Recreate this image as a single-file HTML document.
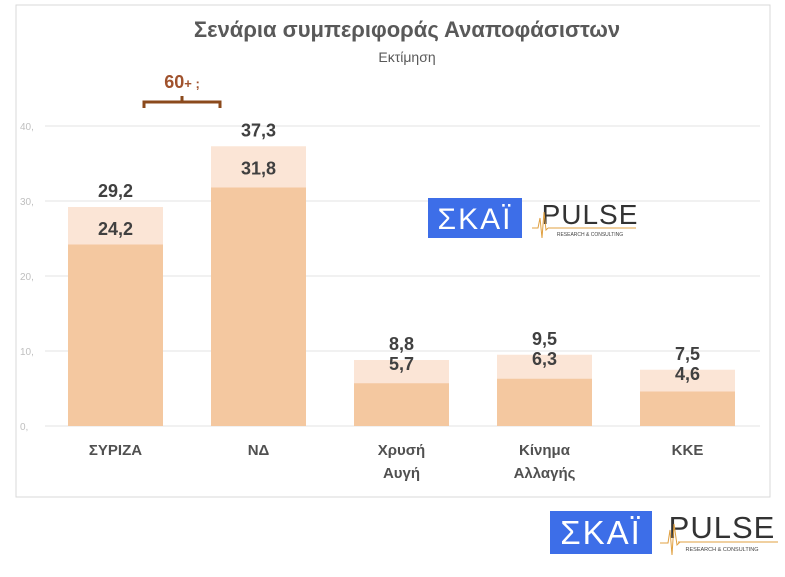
<!DOCTYPE html>
<html><head><meta charset="utf-8"><style>
body{margin:0;background:#fff;width:785px;height:572px;overflow:hidden;font-family:"Liberation Sans","DejaVu Sans",sans-serif}
</style></head><body>
<svg width="785" height="572" xmlns="http://www.w3.org/2000/svg">
<rect x="16" y="5" width="754" height="492" fill="#fff" stroke="#d9d9d9"/>
<text x="407" y="37" text-anchor="middle" font-size="22" font-weight="bold" fill="#595959">Σενάρια συμπεριφοράς Αναποφάσιστων</text>
<text x="407" y="62" text-anchor="middle" font-size="14" fill="#595959">Εκτίμηση</text>
<g id="grid"></g>
<g id="bars"></g>
<g>
<path d="M144,108 V102 H220 V108 M182,102 V96" fill="none" stroke="#8b4a1c" stroke-width="3"/>
<text x="182" y="88" text-anchor="middle" font-size="18" font-weight="bold" fill="#a0522d">60<tspan font-size="13">+ ;</tspan></text>
</g>
<g>
<rect x="428" y="198" width="94" height="40" fill="#3d6ee8"/>
<text x="475" y="229" text-anchor="middle" font-size="30" fill="#fff" letter-spacing="2">ΣΚΑΪ</text>
<text x="590" y="224" text-anchor="middle" font-size="28" fill="#333" letter-spacing="1">PULSE</text>
<line x1="548" y1="228" x2="636" y2="228" stroke="#e0a040"/>
<text x="590" y="236" text-anchor="middle" font-size="5" fill="#444">RESEARCH &amp; CONSULTING</text>
<path d="M532,228 L538,228 L540,218 L542,238 L544,212 L546,230 L548,228" fill="none" stroke="#e0a040"/>
</g>
<g>
<rect x="550" y="511" width="102" height="43" fill="#3d6ee8"/>
<text x="601" y="544" text-anchor="middle" font-size="33" fill="#fff" letter-spacing="2">ΣΚΑΪ</text>
<text x="722" y="538" text-anchor="middle" font-size="31" fill="#333" letter-spacing="1">PULSE</text>
<line x1="678" y1="542" x2="778" y2="542" stroke="#e0a040"/>
<text x="722" y="551" text-anchor="middle" font-size="5.5" fill="#444">RESEARCH &amp; CONSULTING</text>
<path d="M660,543 L668,543 L670,530 L672,555 L674,524 L677,545 L680,542" fill="none" stroke="#e0a040"/>
</g>
</svg>
<script>
const categories=[["ΣΥΡΙΖΑ"],["ΝΔ"],["Χρυσή","Αυγή"],["Κίνημα","Αλλαγής"],["ΚΚΕ"]];
const baseValues=[24.2,31.8,5.7,6.3,4.6];
const totalValues=[29.2,37.3,8.8,9.5,7.5];
const baseLabels=["24,2","31,8","5,7","6,3","4,6"];
const totalLabels=["29,2","37,3","8,8","9,5","7,5"];
const ticks=[0,10,20,30,40];
const tickLabels=["0,","10,","20,","30,","40,"];
const NS="http://www.w3.org/2000/svg";
const x0=44,bandW=143,yBase=426,pxPer=7.5,barW=95;
const y=v=>yBase-v*pxPer;
const xc=i=>x0+bandW*(i+0.5);
function mk(t,a,p){const e=document.createElementNS(NS,t);for(const k in a)e.setAttribute(k,a[k]);p.appendChild(e);return e;}
const g=document.getElementById('grid'),b=document.getElementById('bars');
ticks.forEach((t,i)=>{
 const l=mk('line',{x1:45,x2:760,y1:y(t),y2:y(t),stroke:'#e3e3e3'},g);
 
 
 const tx=mk('text',{x:20,y:y(t)+4,'font-size':10,fill:'#bfbfbf'},g);tx.textContent=tickLabels[i];
 
 
});
categories.forEach((c,i)=>{
 const cx=xc(i);
 const r1=mk('rect',{x:cx-barW/2,y:y(totalValues[i]),width:barW,height:totalValues[i]*pxPer,fill:'#fbe5d6'},b);
 
 
 const r2=mk('rect',{x:cx-barW/2,y:y(baseValues[i]),width:barW,height:baseValues[i]*pxPer,fill:'#f4c8a0'},b);
 
 
 const top=y(totalValues[i]);
 const big=totalValues[i]>20;
 const t1=mk('text',{x:cx,y:top-(big?10:10),'text-anchor':'middle','font-size':18,'font-weight':'bold',fill:'#404040'},b);t1.textContent=totalLabels[i];
 
 
 const t2=mk('text',{x:cx,y:top+(big?28:10),'text-anchor':'middle','font-size':18,'font-weight':'bold',fill:'#404040'},b);t2.textContent=baseLabels[i];
 
 
 c.forEach((line,j)=>{
  const ct=mk('text',{x:cx,y:455+j*23,'text-anchor':'middle','font-size':15,'font-weight':'bold',fill:'#505050'},b);ct.textContent=line;
  
  
 });
});
</script>
</body></html>
